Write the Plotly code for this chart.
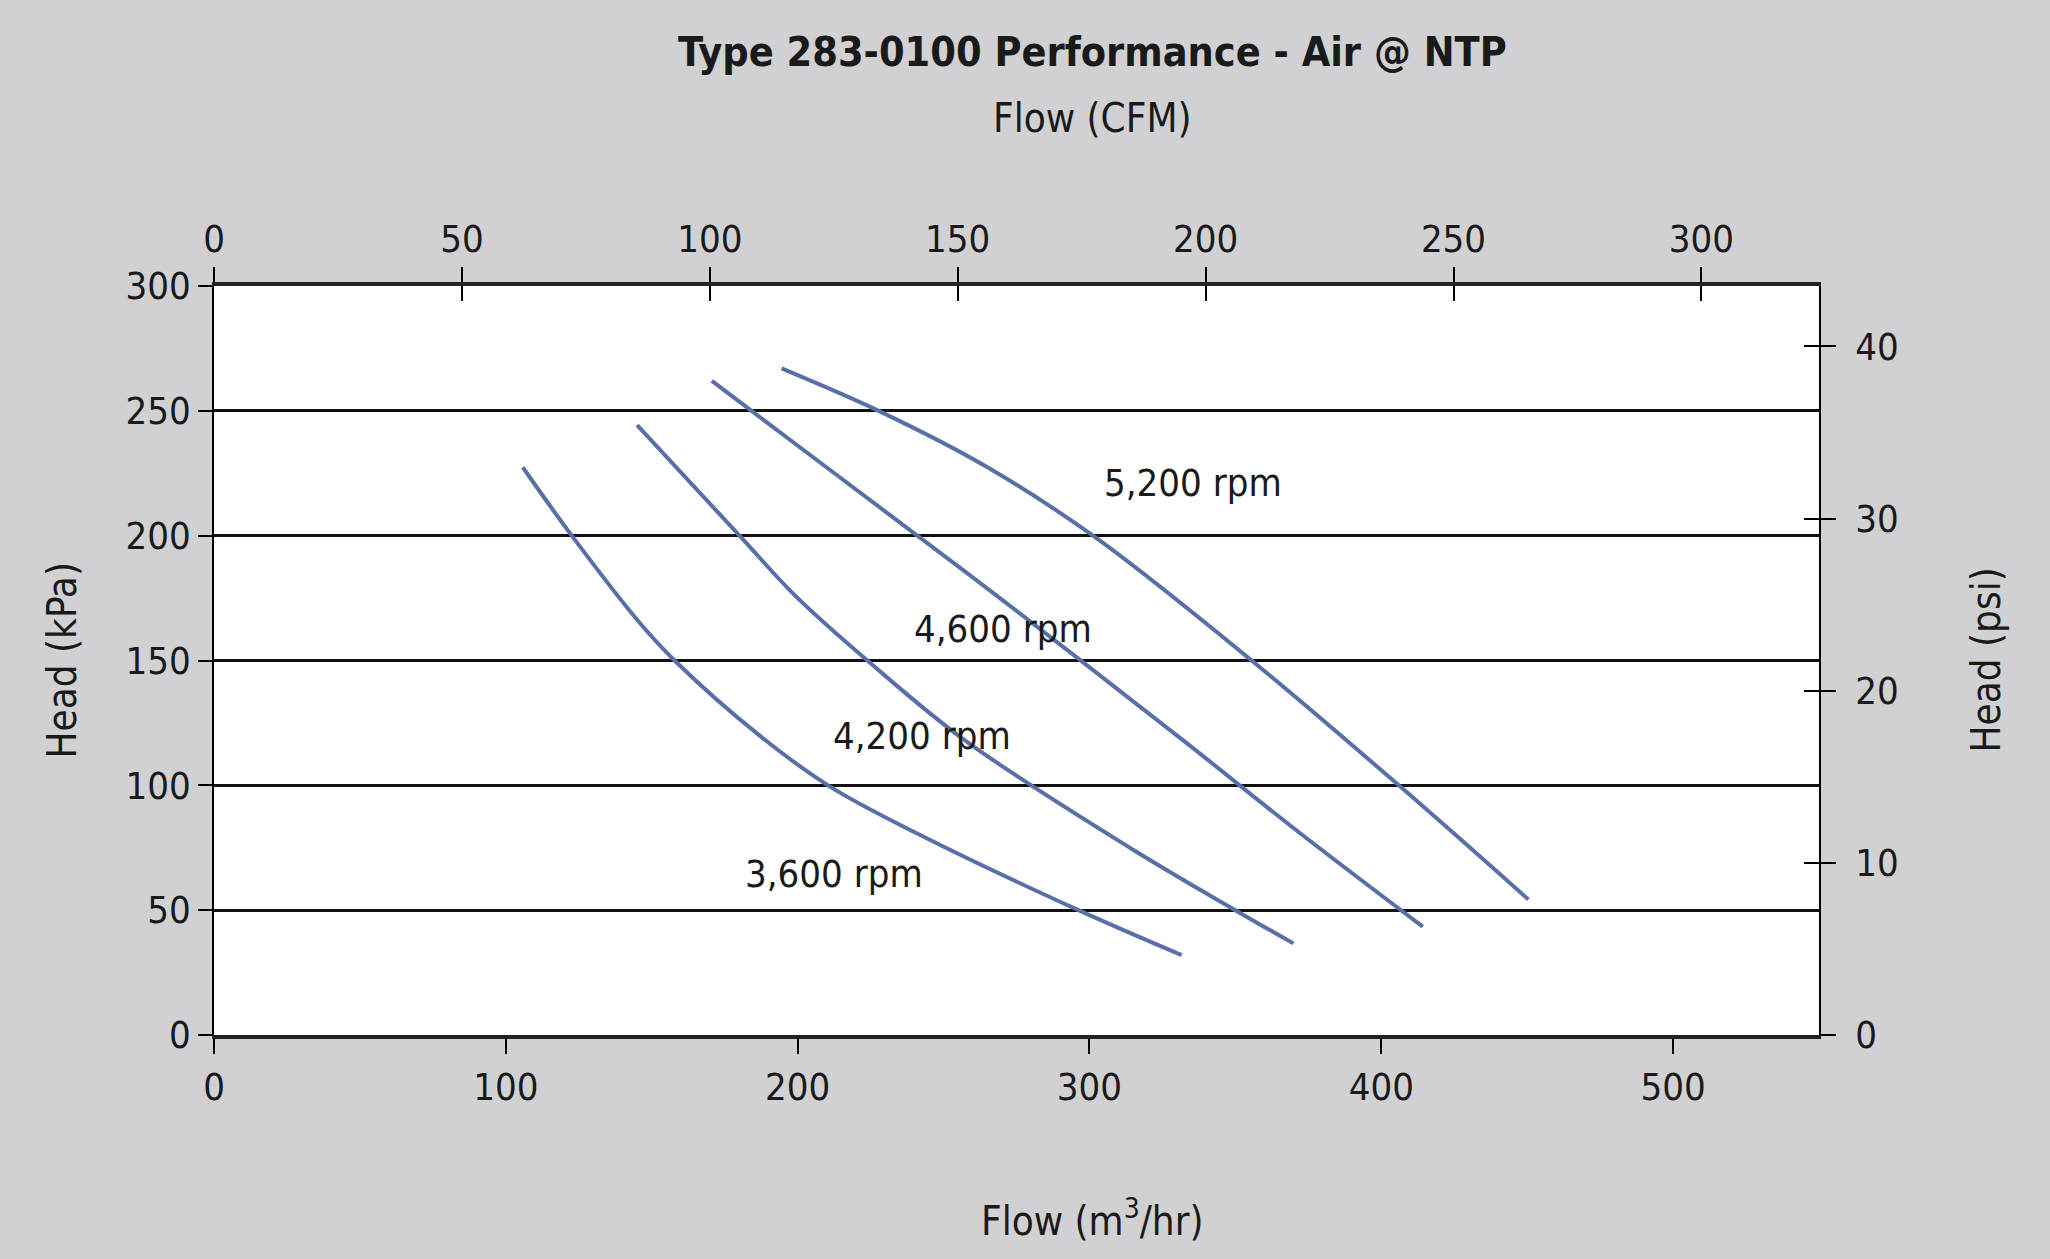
import plotly.graph_objects as go

# flow in m3/hr, head in kPa
rpm_labels = ["3,600 rpm", "4,200 rpm", "4,600 rpm", "5,200 rpm"]

flow_3600 = [105.8, 122.6, 146.0, 158.0, 187.1, 211.1, 240.8, 296.8, 331.6]
head_3600 = [227.4, 200.0, 164.9, 149.8, 119.8, 99.5, 80.8, 49.7, 32.0]

flow_4200 = [145.0, 180.4, 199.5, 224.4, 257.1, 315.1, 350.4, 369.9]
head_4200 = [244.3, 199.6, 175.6, 149.5, 118.2, 74.1, 49.7, 36.7]

flow_4600 = [170.6, 212.6, 270.2, 331.9, 372.2, 414.2]
head_4600 = [262.0, 225.0, 174.2, 118.2, 80.8, 43.4]

flow_5200 = [194.5, 228.3, 264.6, 301.7, 356.2, 406.5, 450.4]
head_5200 = [267.0, 249.7, 227.7, 199.6, 149.4, 99.5, 54.3]

# label anchor points (m3/hr, kPa)
label_flow = [212.6, 242.6, 270.4, 335.4]
label_head = [64.4, 119.9, 162.8, 221.0]

M3HR_PER_CFM = 1.699
KPA_PER_PSI = 6.895
x_max = 550
y_max = 300

font = "Liberation Sans Narrow, DejaVu Sans Condensed, Roboto, sans-serif"
ink = "#1a1a1a"
line_color = "#5a6ea8"
bg = "#d1d1d3"

fig = go.Figure()
for fx, hy in [(flow_3600, head_3600), (flow_4200, head_4200),
               (flow_4600, head_4600), (flow_5200, head_5200)]:
    fig.add_trace(go.Scatter(x=fx, y=hy, mode="lines",
                             line=dict(color=line_color, width=4, shape="spline", smoothing=1.0),
                             showlegend=False, hoverinfo="skip"))

# empty traces so the secondary axes get drawn
for xa, ya in [("x2", "y2"), ("x3", "y3")]:
    fig.add_trace(go.Scatter(x=[], y=[], xaxis=xa, yaxis=ya, showlegend=False, hoverinfo="skip"))

for lx, ly, txt in zip(label_flow, label_head, rpm_labels):
    fig.add_annotation(x=lx, y=ly, text=txt, showarrow=False,
                       font=dict(family=font, size=38, color=ink))

tick_font = dict(family=font, size=38, color=ink)
tick_style = dict(ticklen=15, tickwidth=1.5, tickcolor="black", showgrid=False, zeroline=False)

fig.update_layout(
    width=2050, height=1259,
    margin=dict(l=214, r=231, t=286, b=224),
    paper_bgcolor=bg, plot_bgcolor="white",
    xaxis=dict(range=[0, x_max], tickvals=[0, 100, 200, 300, 400, 500], ticks="outside",
               showline=True, linecolor="#222", linewidth=4, tickfont=tick_font, **tick_style),
    xaxis2=dict(overlaying="x", side="top", range=[0, x_max / M3HR_PER_CFM],
                tickvals=[0, 50, 100, 150, 200, 250, 300], ticks="outside",
                showline=True, linecolor="#222", linewidth=4, tickfont=tick_font, **tick_style),
    xaxis3=dict(overlaying="x", side="top", range=[0, x_max / M3HR_PER_CFM],
                tickvals=[0, 50, 100, 150, 200, 250, 300], showticklabels=False,
                ticks="inside", **tick_style),
    yaxis=dict(range=[0, y_max], tickvals=[0, 50, 100, 150, 200, 250, 300],
               ticks="outside", ticklen=14, tickwidth=1.5, tickcolor="black",
               showline=True, linecolor="black", linewidth=1.5,
               showgrid=True, gridcolor="#111", gridwidth=2.5,
               zeroline=False, tickfont=tick_font),
    yaxis2=dict(overlaying="y", side="right", range=[0, y_max / KPA_PER_PSI],
                tickvals=[0, 10, 20, 30, 40], ticks="outside", ticklabelstandoff=12,
                showline=True, linecolor="black", linewidth=1.5, tickfont=tick_font, **tick_style),
    yaxis3=dict(overlaying="y", side="right", range=[0, y_max / KPA_PER_PSI],
                tickvals=[0, 10, 20, 30, 40], showticklabels=False,
                ticks="inside", **tick_style),
)

# titles, placed in pixels relative to the plot area
plot_l, plot_t, plot_w, plot_h = 214, 286, 1605, 749
def px_x(p):
    return (p - plot_l) / plot_w
def px_y(p):
    return 1 - (p - plot_t) / plot_h

def title(x, y, text, size, angle=0):
    fig.add_annotation(x=x, y=y, xref="paper", yref="paper", showarrow=False,
                       xanchor="center", yanchor="middle", textangle=angle, text=text,
                       font=dict(family=font, size=size, color=ink))

title_x = px_x(1092)
title(title_x, px_y(52), "<b>Type 283-0100 Performance - Air @ NTP</b>", 41)
title(title_x, px_y(118), "Flow (CFM)", 40)
title(title_x, px_y(1218), "Flow (m<sup>3</sup>/hr)", 40)
title(px_x(61), 0.5, "Head (kPa)", 40, -90)
title(px_x(1985), 0.5, "Head (psi)", 40, -90)

fig.write_html("out.html", config={"displayModeBar": False},
               post_script="document.body.style.margin='0';")
